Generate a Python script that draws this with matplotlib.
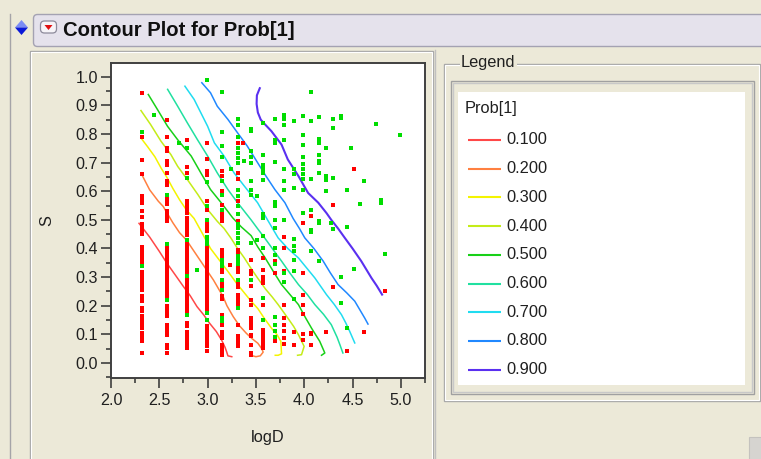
import matplotlib
matplotlib.use("Agg")
import matplotlib.pyplot as plt
from matplotlib.patches import Rectangle, FancyBboxPatch, Polygon

plt.rcParams['font.family'] = ['Liberation Sans', 'DejaVu Sans']

W, H = 761, 459
BEIGE = '#ECE9D8'

# ---------------- data ----------------
levels = ["0.100", "0.200", "0.300", "0.400", "0.500", "0.600", "0.700", "0.800", "0.900"]
level_colors = ['#FF4848', '#FF8040', '#F4F400', '#C4EC18', '#18D018',
                '#20E0A0', '#20DCF0', '#2088FF', '#5A30F0']

# contour lines (logD, S)
line_010 = [(2.29, 0.488), (2.40, 0.44), (2.50, 0.39), (2.58, 0.348), (2.66, 0.31), (2.75, 0.267),
            (2.82, 0.235), (2.89, 0.197), (2.96, 0.168), (3.02, 0.139), (3.09, 0.11), (3.145, 0.080),
            (3.18, 0.055), (3.196, 0.040), (3.21, 0.025), (3.25, 0.022)]
line_020 = [(2.31, 0.664), (2.40, 0.605), (2.49, 0.565), (2.54, 0.547), (2.64, 0.49), (2.71, 0.455),
            (2.78, 0.43), (2.86, 0.39), (2.92, 0.36), (3.00, 0.32), (3.06, 0.29), (3.16, 0.232),
            (3.20, 0.20), (3.265, 0.162), (3.33, 0.13), (3.40, 0.104), (3.46, 0.085), (3.52, 0.069),
            (3.56, 0.05), (3.575, 0.038), (3.545, 0.025), (3.50, 0.022), (3.455, 0.026), (3.44, 0.034)]
line_030 = [(2.31, 0.786), (2.38, 0.755), (2.455, 0.72), (2.52, 0.68), (2.576, 0.65), (2.64, 0.61),
            (2.71, 0.57), (2.78, 0.535), (2.86, 0.505), (2.95, 0.45), (3.03, 0.40), (3.12, 0.36),
            (3.21, 0.32), (3.31, 0.274), (3.38, 0.245), (3.45, 0.216), (3.52, 0.19), (3.585, 0.157),
            (3.66, 0.122), (3.72, 0.098), (3.758, 0.076), (3.765, 0.032), (3.73, 0.027), (3.70, 0.027)]
line_040 = [(2.31, 0.882), (2.41, 0.833), (2.517, 0.775), (2.62, 0.728), (2.69, 0.687), (2.79, 0.641),
            (2.90, 0.588), (3.0, 0.536), (3.10, 0.495), (3.17, 0.47), (3.24, 0.437), (3.31, 0.40),
            (3.38, 0.367), (3.45, 0.33), (3.517, 0.297), (3.60, 0.258), (3.67, 0.23), (3.73, 0.204),
            (3.83, 0.157), (3.89, 0.128), (3.94, 0.099), (3.999, 0.058), (3.972, 0.029), (3.931, 0.027)]
line_050 = [(2.386, 0.938), (2.48, 0.886), (2.585, 0.827), (2.69, 0.78), (2.83, 0.723), (2.93, 0.664),
            (3.03, 0.606), (3.14, 0.56), (3.26, 0.507), (3.35, 0.475), (3.45, 0.445), (3.52, 0.405),
            (3.59, 0.37), (3.68, 0.32), (3.765, 0.274), (3.85, 0.24), (3.94, 0.204), (4.01, 0.16),
            (4.075, 0.122), (4.16, 0.076), (4.213, 0.035), (4.179, 0.027)]
line_060 = [(2.586, 0.956), (2.69, 0.897), (2.79, 0.839), (2.895, 0.78), (3.0, 0.723), (3.10, 0.664),
            (3.21, 0.606), (3.31, 0.56), (3.45, 0.50), (3.52, 0.468), (3.59, 0.437), (3.68, 0.395),
            (3.765, 0.356), (3.85, 0.315), (3.94, 0.274), (4.03, 0.24), (4.11, 0.204), (4.20, 0.17),
            (4.28, 0.134), (4.34, 0.09), (4.37, 0.063), (4.40, 0.035)]
line_070 = [(2.765, 0.967), (2.86, 0.921), (2.93, 0.874), (3.0, 0.827), (3.07, 0.769), (3.17, 0.723),
            (3.274, 0.664), (3.38, 0.618), (3.517, 0.56), (3.62, 0.50), (3.73, 0.437), (3.83, 0.40),
            (3.94, 0.367), (4.03, 0.33), (4.11, 0.297), (4.23, 0.239), (4.31, 0.205), (4.385, 0.169),
            (4.43, 0.14), (4.47, 0.111), (4.523, 0.07)]
line_080 = [(2.94, 0.979), (3.03, 0.944), (3.10, 0.897), (3.21, 0.851), (3.31, 0.804), (3.41, 0.758),
            (3.517, 0.70), (3.60, 0.655), (3.696, 0.606), (3.80, 0.56), (3.885, 0.505), (3.95, 0.47),
            (4.006, 0.437), (4.10, 0.40), (4.196, 0.356), (4.27, 0.315), (4.35, 0.274), (4.44, 0.245),
            (4.523, 0.216), (4.626, 0.157), (4.66, 0.136)]
line_090 = [(3.54, 0.96), (3.51, 0.935), (3.507, 0.905), (3.52, 0.875), (3.55, 0.85), (3.59, 0.835),
            (3.66, 0.81), (3.765, 0.763), (3.83, 0.711), (3.94, 0.653), (4.04, 0.594), (4.145, 0.56),
            (4.23, 0.524), (4.28, 0.50), (4.35, 0.47), (4.42, 0.437), (4.50, 0.40), (4.59, 0.356),
            (4.696, 0.297), (4.75, 0.27), (4.806, 0.239)]
contour_lines = [line_010, line_020, line_030, line_040, line_050, line_060, line_070, line_080, line_090]

# observed points, Prob[1] response: red columns by logD
red_232 = [0.942, 0.790, 0.710, 0.660, 0.585, 0.572, 0.560, 0.530, 0.510, 0.485, 0.475, 0.465, 0.450,
           0.405, 0.395, 0.385, 0.375, 0.365, 0.355, 0.345, 0.318, 0.305, 0.292, 0.280, 0.268, 0.256,
           0.235, 0.225, 0.216, 0.192, 0.180, 0.165, 0.155, 0.145, 0.133, 0.122, 0.105, 0.095, 0.085,
           0.076, 0.035]
red_258 = [0.850, 0.790, 0.752, 0.740, 0.705, 0.690, 0.664, 0.635, 0.622, 0.578, 0.567, 0.556, 0.530,
           0.518, 0.506, 0.495, 0.400, 0.388, 0.376, 0.364, 0.352, 0.340, 0.328, 0.316, 0.304, 0.292,
           0.280, 0.268, 0.256, 0.244, 0.232, 0.200, 0.188, 0.176, 0.164, 0.134, 0.122, 0.110, 0.099,
           0.064, 0.052, 0.035]
red_279 = [0.780, 0.686, 0.662, 0.565, 0.552, 0.538, 0.524, 0.506, 0.494, 0.482, 0.470, 0.458, 0.446,
           0.414, 0.402, 0.390, 0.378, 0.366, 0.354, 0.342, 0.330, 0.318, 0.290, 0.278, 0.266, 0.254,
           0.242, 0.230, 0.218, 0.206, 0.194, 0.182, 0.140, 0.128, 0.110, 0.098, 0.086, 0.074, 0.062,
           0.052]
red_299 = [0.770, 0.712, 0.670, 0.656, 0.566, 0.536, 0.497, 0.485, 0.473, 0.461, 0.400, 0.388, 0.376,
           0.364, 0.352, 0.340, 0.328, 0.316, 0.300, 0.288, 0.276, 0.264, 0.252, 0.240, 0.228, 0.216,
           0.204, 0.192, 0.180, 0.130, 0.118, 0.106, 0.094, 0.082, 0.070, 0.058, 0.042]
red_315 = [0.670, 0.652, 0.600, 0.553, 0.520, 0.507, 0.495, 0.396, 0.384, 0.372, 0.330, 0.318, 0.285,
           0.273, 0.262, 0.233, 0.222, 0.169, 0.134, 0.110, 0.098, 0.087, 0.064, 0.052, 0.040, 0.028]
red_331 = [0.770, 0.664, 0.643, 0.567, 0.497, 0.396, 0.384, 0.332, 0.318, 0.280, 0.265, 0.239, 0.227,
           0.215, 0.204, 0.134, 0.093, 0.081, 0.070, 0.058]
red_345 = [0.360, 0.320, 0.310, 0.268, 0.220, 0.204, 0.157, 0.145, 0.134, 0.122, 0.099, 0.093, 0.064,
           0.035, 0.029]
red_357 = [0.367, 0.325, 0.300, 0.290, 0.280, 0.203, 0.115, 0.104, 0.093, 0.081, 0.070, 0.058, 0.052]
red_370 = [0.356, 0.316, 0.076]
red_379 = [0.440, 0.400, 0.320, 0.202, 0.157, 0.134, 0.111, 0.088, 0.065]
red_389 = [0.110, 0.063]
red_399 = [0.490, 0.315, 0.237, 0.202, 0.172, 0.100, 0.080]
red_407 = [0.513, 0.105, 0.100, 0.063]
red_other = [(3.37, 0.770), (3.23, 0.343), (4.23, 0.107), (4.30, 0.552), (4.30, 0.267), (4.447, 0.042),
             (4.51, 0.678), (4.62, 0.107), (4.84, 0.253)]

green_232 = [0.808, 0.338]
green_258 = [0.588, 0.414, 0.220]
green_279 = [0.752, 0.645, 0.430, 0.303, 0.169]
green_299 = [0.987, 0.632, 0.548, 0.500, 0.440, 0.428, 0.414, 0.175, 0.151]
green_315 = [0.946, 0.808, 0.757, 0.720, 0.635, 0.587, 0.536, 0.360, 0.349, 0.338, 0.290, 0.256,
             0.157, 0.147]
green_331 = [0.853, 0.833, 0.790, 0.752, 0.734, 0.717, 0.700, 0.606, 0.583, 0.548, 0.519, 0.484,
             0.470, 0.455, 0.437, 0.420, 0.373, 0.360, 0.347, 0.290, 0.192]
green_345 = [0.818, 0.810, 0.740, 0.720, 0.700, 0.635, 0.606, 0.588, 0.420, 0.290]
green_357 = [0.840, 0.728, 0.690, 0.677, 0.664, 0.640, 0.520, 0.505, 0.443, 0.400, 0.227, 0.150]
green_370 = [0.853, 0.780, 0.770, 0.703, 0.562, 0.550, 0.500, 0.472, 0.402, 0.379, 0.345, 0.160,
             0.134, 0.111, 0.090]
green_379 = [0.868, 0.851, 0.833, 0.780, 0.678, 0.636, 0.603, 0.500, 0.315, 0.284]
green_389 = [0.847, 0.678, 0.660, 0.612, 0.433, 0.408, 0.390, 0.361, 0.320, 0.225]
green_399 = [0.862, 0.796, 0.763, 0.719, 0.695, 0.678, 0.660, 0.643, 0.603, 0.525]
green_407 = [0.946, 0.847, 0.643, 0.536, 0.463, 0.457, 0.390]
green_415 = [0.859, 0.784, 0.769, 0.728, 0.705, 0.700, 0.664, 0.495, 0.489, 0.358]
green_other = [(2.44, 0.865), (2.70, 0.770), (2.89, 0.324), (3.24, 0.678), (3.38, 0.707), (3.51, 0.583),
               (3.51, 0.428), (4.23, 0.752), (4.23, 0.652), (4.23, 0.640), (4.23, 0.600), (4.30, 0.851),
               (4.30, 0.820), (4.30, 0.645), (4.28, 0.490), (4.30, 0.468), (4.385, 0.862), (4.385, 0.856),
               (4.385, 0.301), (4.385, 0.208), (4.447, 0.606), (4.447, 0.474), (4.447, 0.124), (4.48, 0.752),
               (4.51, 0.330), (4.58, 0.557), (4.62, 0.636), (4.747, 0.836), (4.793, 0.568), (4.793, 0.559),
               (4.84, 0.380), (4.99, 0.796)]

red_cols = [(2.32, red_232), (2.58, red_258), (2.79, red_279), (2.99, red_299), (3.15, red_315),
            (3.31, red_331), (3.45, red_345), (3.57, red_357), (3.70, red_370), (3.79, red_379),
            (3.89, red_389), (3.99, red_399), (4.07, red_407)]
green_cols = [(2.32, green_232), (2.58, green_258), (2.79, green_279), (2.99, green_299), (3.15, green_315),
              (3.31, green_331), (3.45, green_345), (3.57, green_357), (3.70, green_370), (3.79, green_379),
              (3.89, green_389), (3.99, green_399), (4.07, green_407), (4.155, green_415)]

xticks = [2.0, 2.5, 3.0, 3.5, 4.0, 4.5, 5.0]
yticks = [0.0, 0.1, 0.2, 0.3, 0.4, 0.5, 0.6, 0.7, 0.8, 0.9, 1.0]

# ---------------- figure + window chrome ----------------
fig = plt.figure(figsize=(W / 100, H / 100), dpi=100, facecolor=BEIGE)
bg = fig.add_axes([0, 0, 1, 1], zorder=0)
bg.set_xlim(0, W)
bg.set_ylim(H, 0)
bg.axis('off')

# outline bar on the left
bg.plot([9.5, 9.5], [14, H], color='#A5A4A8', lw=1.0)

# title strip
bg.add_patch(FancyBboxPatch((33.5, 14.5), 760, 32, boxstyle="round,pad=0,rounding_size=4",
                            facecolor='#E5E2EC', edgecolor='#A4A2B2', lw=1.0))
# blue disclosure diamond
bg.add_patch(Polygon([(15, 27.5), (21.5, 20), (28, 27.5)], closed=True, facecolor='#7C8CF4', edgecolor='none'))
bg.add_patch(Polygon([(15, 27.5), (21.5, 35), (28, 27.5)], closed=True, facecolor='#0A18D8', edgecolor='none'))
# red popup button
bg.add_patch(FancyBboxPatch((40.5, 21), 16, 12, boxstyle="round,pad=0,rounding_size=4",
                            facecolor='#F6F4F8', edgecolor='#8C8A9A', lw=0.9))
bg.add_patch(Polygon([(44.5, 25), (52.5, 25), (48.5, 30)], closed=True, facecolor='#E01010', edgecolor='none'))
bg.text(63, 31, "Contour Plot for Prob[1]", fontsize=14.6, fontweight='bold', color='#101010',
        ha='left', va='center')

# plot panel frame
bg.add_patch(Rectangle((29.5, 50.5), 403, 420, facecolor='none', edgecolor='#A8A8A8', lw=1.0))
bg.add_patch(Rectangle((30.5, 51.5), 401, 420, facecolor='none', edgecolor='#FFFFFF', lw=0.8))
bg.plot([434.5, 434.5], [50, H], color='#C0C0C0', lw=1.0)

# legend group box
bg.add_patch(Rectangle((443.5, 63.5), 316, 337, facecolor='none', edgecolor='#A8A8A8', lw=1.0))
bg.add_patch(Rectangle((444.5, 64.5), 314, 335, facecolor='none', edgecolor='#FFFFFF', lw=0.8))
bg.text(461, 63, "Legend", fontsize=11.8, color='#202020', ha='left', va='center',
        bbox=dict(facecolor=BEIGE, edgecolor='none', pad=1.0))
bg.add_patch(Rectangle((450.5, 80.5), 303, 313, facecolor='none', edgecolor='#A0A0A0', lw=1.0))
bg.add_patch(Rectangle((452.5, 82.5), 299, 309, facecolor='none', edgecolor='#C8C8C8', lw=1.0))
bg.add_patch(Rectangle((458, 92), 287, 293, facecolor='white', edgecolor='none'))
bg.text(465, 108, "Prob[1]", fontsize=11.8, color='#202020', ha='left', va='center')
for i, (lab, col) in enumerate(zip(levels, level_colors)):
    yy = 140 + i * 28.7
    bg.plot([468, 501], [yy, yy], color=col, lw=1.5, solid_capstyle='butt')
    bg.text(506, yy, lab, fontsize=11.8, color='#202020', ha='left', va='center')

# small grip at lower right
bg.add_patch(Rectangle((749, 437), 14, 24, facecolor='#D6D4D0', edgecolor='#C4C2BE', lw=0.8))

# ---------------- the contour plot ----------------
ax = fig.add_axes([111 / W, 1 - 378 / H, 314 / W, 315 / H], zorder=1)
ax.set_facecolor('white')

for pts, col, lab in zip(contour_lines, level_colors, levels):
    xs = [p[0] for p in pts]
    ys = [p[1] for p in pts]
    ax.plot(xs, ys, color=col, lw=1.5 if lab == "0.900" else 1.1, zorder=2)

rx, ry = [], []
for x, ys in red_cols:
    rx += [x] * len(ys)
    ry += ys
rx += [p[0] for p in red_other]
ry += [p[1] for p in red_other]
gx, gy = [], []
for x, ys in green_cols:
    gx += [x] * len(ys)
    gy += ys
gx += [p[0] for p in green_other]
gy += [p[1] for p in green_other]

ax.plot(rx, ry, linestyle='none', marker='s', markersize=2.3, color='#FF0000', markeredgewidth=0, zorder=3)
ax.plot(gx, gy, linestyle='none', marker='s', markersize=2.3, color='#00DD00', markeredgewidth=0, zorder=3)

ax.set_xlim(2.0, 5.248)
ax.set_ylim(-0.0524, 1.048)
ax.set_xticks(xticks)
ax.set_xticks([2.25, 2.75, 3.25, 3.75, 4.25, 4.75, 5.25], minor=True)
ax.set_yticks(yticks)
ax.set_yticks([-0.05, 0.05, 0.15, 0.25, 0.35, 0.45, 0.55, 0.65, 0.75, 0.85, 0.95], minor=True)
ax.set_xticklabels(["%.1f" % v for v in xticks])
ax.set_yticklabels(["%.1f" % v for v in yticks])
ax.tick_params(which='major', length=7, width=1.1, color='#303030', labelsize=11.6, labelcolor='#202020')
ax.tick_params(which='minor', length=3.8, width=1.1, color='#303030')
ax.tick_params(axis='x', which='major', pad=3.5)
ax.tick_params(axis='y', which='major', pad=2.5)
for s in ax.spines.values():
    s.set_color('#404040')
    s.set_linewidth(1.4)

ax.set_xlabel("logD", fontsize=11.8, color='#202020')
ax.set_ylabel("S", fontsize=11.8, color='#202020')
ax.xaxis.set_label_coords(0.5, -0.165)
ax.yaxis.set_label_coords(-0.18, 0.5)

fig.savefig("out.png", dpi=100, facecolor=BEIGE)
